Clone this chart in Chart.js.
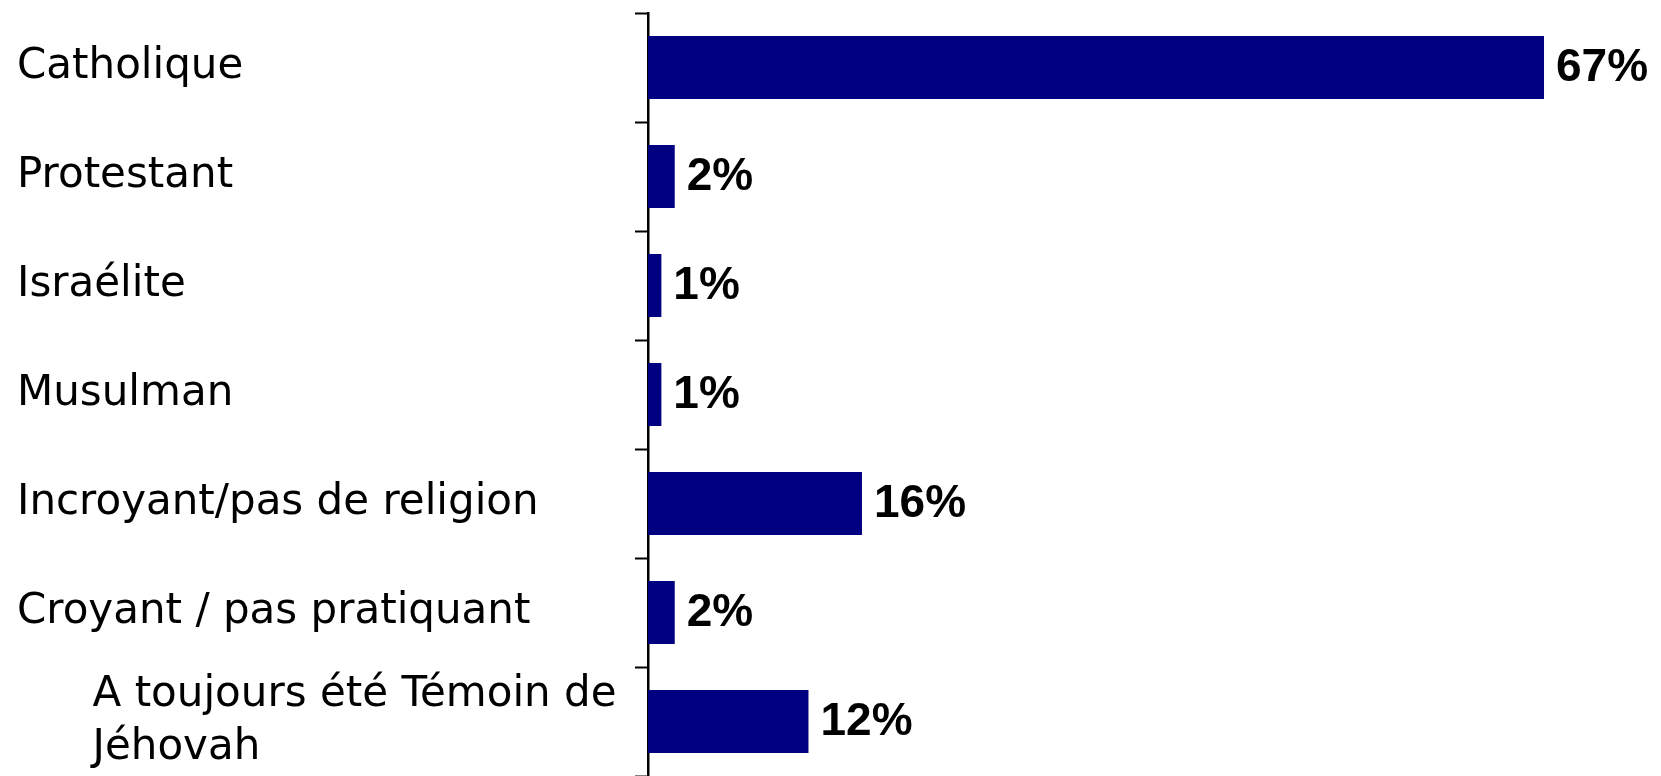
<!DOCTYPE html>
<html>
<head>
<meta charset="utf-8">
<script src="https://cdn.jsdelivr.net/npm/chart.js@4/dist/chart.umd.min.js"></script>
<style>
  html, body { margin: 0; padding: 0; background: #fff; }
  #box { width: 1661px; height: 776px; position: relative; }
</style>
</head>
<body>
<div id="box"><canvas id="chartReligion"></canvas></div>
<script>
var categorias = [
  "Catholique",
  "Protestant",
  "Israélite",
  "Musulman",
  "Incroyant/pas de religion",
  "Croyant / pas pratiquant",
  ["A toujours été Témoin de", "Jéhovah"]
];
var valores = [67, 2, 1, 1, 16, 2, 12];
var sufixo = "%";

// rótulos de valor ao lado de cada barra
var rotulos = {
  id: 'rotulos',
  afterDatasetsDraw: function (chart) {
    var ctx = chart.ctx;
    var meta = chart.getDatasetMeta(0);
    ctx.save();
    ctx.font = 'bold 46px "Liberation Sans", Arial, sans-serif';
    ctx.fillStyle = '#000';
    ctx.textAlign = 'left';
    ctx.textBaseline = 'middle';
    meta.data.forEach(function (bar, i) {
      ctx.fillText(valores[i] + sufixo, bar.x + 12, bar.y + 1);
    });
    ctx.restore();
  }
};

function plot() {
  var ctx = document.getElementById("chartReligion");
  new Chart(ctx, {
    type: 'bar',
    data: {
      labels: categorias,
      datasets: [{
        data: valores,
        backgroundColor: '#000080',
        borderWidth: 0,
        categoryPercentage: 1,
        barPercentage: 0.578
      }]
    },
    options: {
      indexAxis: 'y',
      responsive: true,
      maintainAspectRatio: false,
      animation: false,
      layout: { padding: { top: 13, bottom: 0, left: 17, right: 10 } },
      plugins: {
        legend: { display: false },
        tooltip: { enabled: false }
      },
      scales: {
        x: {
          display: false,
          min: 0,
          max: 75
        },
        y: {
          grid: {
            display: true,
            offset: true,
            drawOnChartArea: false,
            drawTicks: true,
            tickLength: 13,
            tickColor: '#000',
            tickWidth: 2
          },
          border: { display: true, color: '#000', width: 2.5 },
          ticks: {
            color: '#000',
            crossAlign: 'far',
            font: { family: '"DejaVu Sans", sans-serif', size: 42, lineHeight: 53 / 42 },
            callback: function (v, i) {
              var lbl = categorias[i];
              if (Array.isArray(lbl)) {
                return lbl.map(function (l) { return '\u2003\u2002\u2009\u200A' + l; });
              }
              return lbl;
            }
          },
          afterFit: function (scale) {
            scale.width = 631;
            scale.paddingTop = 0;
            scale.paddingBottom = 0;
          }
        }
      }
    },
    plugins: [rotulos]
  });
}

plot();
</script>
</body>
</html>
